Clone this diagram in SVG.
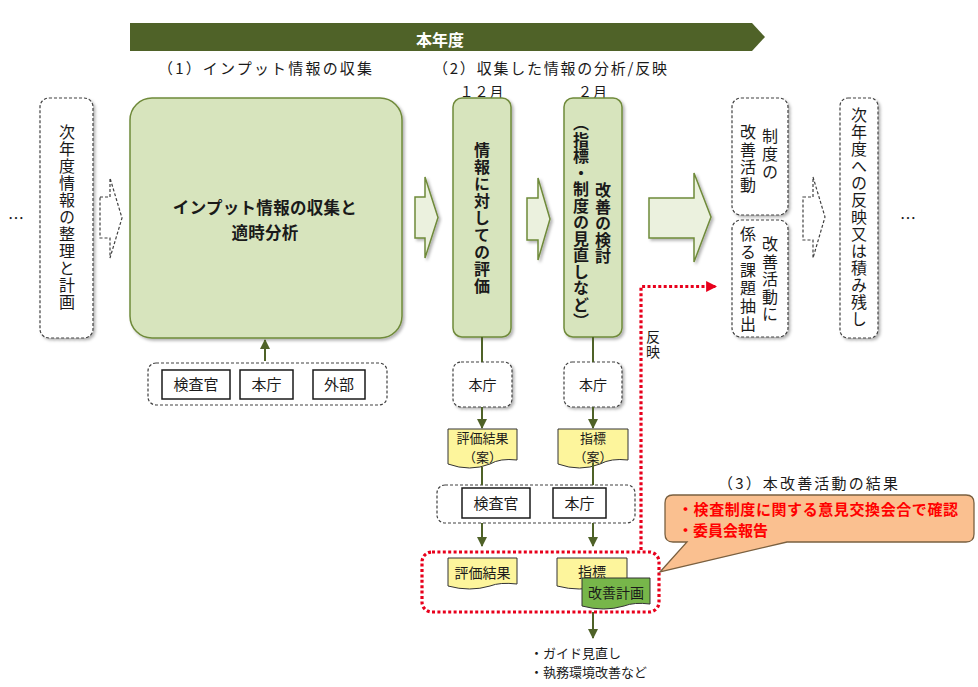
<svg xmlns="http://www.w3.org/2000/svg" width="978" height="687" viewBox="0 0 978 687">
<defs>
<filter id="sh" x="-10%" y="-10%" width="130%" height="130%"><feDropShadow dx="2" dy="2" stdDeviation="1.5" flood-color="#000" flood-opacity="0.3"/></filter>
<marker id="ah" viewBox="0 0 10 10" refX="9" refY="5" markerWidth="10" markerHeight="10" markerUnits="userSpaceOnUse" orient="auto"><path d="M0,0 L10,5 L0,10 Z" fill="#4f6228"/></marker>
<marker id="rh" viewBox="0 0 10 10" refX="9" refY="5" markerWidth="11" markerHeight="12" markerUnits="userSpaceOnUse" orient="auto"><path d="M0,0 L10,5 L0,10 Z" fill="#e8001c"/></marker>
<style>
text{font-family:"Noto Sans CJK JP","Noto Sans",sans-serif;fill:#1a1a1a}
.v{writing-mode:vertical-rl;text-anchor:start;font-size:16px;letter-spacing:1px}
.b{font-weight:bold}
.c{text-anchor:middle}
.gbox{fill:#d7e4bd;stroke:#6f8a3a;stroke-width:1.5;filter:url(#sh)}
.dash{fill:#fff;stroke:#404040;stroke-width:1.2;stroke-dasharray:3 2;filter:url(#sh)}
.dashg{fill:none;stroke:#404040;stroke-width:1.2;stroke-dasharray:3 2}
.harrow{fill:#ebf1de;stroke:#6f8a3a;stroke-width:1.5;filter:url(#sh)}
.darrow{fill:#fff;stroke:#404040;stroke-width:1.2;stroke-dasharray:3 2}
.sbox{fill:#fff;stroke:#1a1a1a;stroke-width:1.5}
.doc{fill:#fdf59c;stroke:#333;stroke-width:1}
.gdoc{fill:#77b64a;stroke:#333;stroke-width:1}
.conn{stroke:#4f6228;stroke-width:2;fill:none}
.red{stroke:#e8001c;stroke-width:3.2;stroke-dasharray:3 2.4;fill:none}
.t14{font-size:14px}
.t13{font-size:13px}
.t15{font-size:15px}
</style>
</defs>

<g id="banner">
<path d="M130 23 H752 L765 37 L752 51 H130 Z" fill="#4f6228"/>
<text x="440" y="46" class="c b" style="fill:#fff;font-size:16px">本年度</text>
</g>

<g id="headers">
<text x="158" y="74" class="t15" textLength="214" lengthAdjust="spacing">（1）インプット情報の収集</text>
<text x="433" y="74" class="t15" textLength="234" lengthAdjust="spacing">（2）収集した情報の分析/反映</text>
<text x="482" y="97" class="c t14" letter-spacing="1">１２月</text>
<text x="593" y="97" class="c t14" letter-spacing="1">２月</text>
</g>

<g id="dots-left"><text x="16" y="224" class="c" style="font-size:16px">…</text></g>
<g id="dots-right"><text x="908" y="224" class="c" style="font-size:16px">…</text></g>

<g id="prev-plan">
<rect x="40" y="98" width="53" height="240" rx="9" class="dash"/>
<text x="67" y="124" class="v">次年度情報の整理と計画</text>
</g>

<g id="input-collect">
<rect x="130" y="98" width="272" height="240" rx="22" class="gbox"/>
<text class="c b" style="font-size:16.5px" letter-spacing="0.3"><tspan x="265" y="214">インプット情報の収集と</tspan><tspan x="265" y="238.5">適時分析</tspan></text>
</g>

<g id="sources">
<rect x="148" y="363" width="239" height="42" rx="8" class="dashg"/>
<rect x="162" y="370" width="68" height="29" class="sbox"/>
<text x="196" y="390" class="c t15">検査官</text>
<rect x="240" y="370" width="53" height="29" class="sbox"/>
<text x="266.5" y="390" class="c t15">本庁</text>
<rect x="313" y="370" width="52" height="29" class="sbox"/>
<text x="339" y="390" class="c t15">外部</text>
</g>

<g id="eval">
<rect x="453" y="98" width="58" height="239" rx="9" class="gbox"/>
<text x="482" y="142" class="v b">情報に対しての評価</text>
</g>

<g id="improve">
<rect x="564" y="98" width="58" height="239" rx="9" class="gbox"/>
<text x="603" y="182" class="v b" style="letter-spacing:0.5px">改善の検討</text>
<text x="581" y="115" class="v b" style="letter-spacing:0.5px">（指標・制度の見直しなど）</text>
</g>

<g id="system-improve">
<rect x="732" y="98" width="56" height="117" rx="9" class="dash"/>
<text x="770" y="128" class="v" style="letter-spacing:2px">制度の</text>
<text x="748" y="124" class="v" style="letter-spacing:1.5px">改善活動</text>
</g>

<g id="issue-extract">
<rect x="732" y="220" width="56" height="117" rx="9" class="dash"/>
<text x="770" y="236" class="v" style="letter-spacing:1.5px">改善活動に</text>
<text x="748" y="226" class="v" style="letter-spacing:2px">係る課題抽出</text>
</g>

<g id="next-year">
<rect x="840" y="98" width="38" height="240" rx="8" class="dash"/>
<text x="859" y="107" class="v">次年度への反映又は積み残し</text>
</g>

<g id="honcho1">
<rect x="453" y="362" width="59" height="45" rx="8" class="dash"/>
<text x="482.5" y="390" class="c t14">本庁</text>
</g>
<g id="honcho2">
<rect x="564" y="362" width="58" height="45" rx="8" class="dash"/>
<text x="593" y="390" class="c t14">本庁</text>
</g>

<g id="draft-eval">
<path d="M448 429 H517 V460 Q500 458 490 464 Q470 472 448 464 Z" class="doc"/>
<text class="c t13"><tspan x="482.5" y="443">評価結果</tspan><tspan x="482.5" y="462">（案）</tspan></text>
</g>
<g id="draft-index">
<path d="M558 429 H628 V460 Q611 458 600 464 Q580 472 558 464 Z" class="doc"/>
<text class="c t13"><tspan x="593" y="443">指標</tspan><tspan x="593" y="462">（案）</tspan></text>
</g>

<g id="review">
<rect x="437" y="485" width="198" height="38" rx="8" class="dashg"/>
<rect x="462" y="488" width="68" height="30" class="sbox"/>
<text x="496" y="509" class="c t15">検査官</text>
<rect x="553" y="488" width="53" height="30" class="sbox"/>
<text x="579.5" y="509" class="c t15">本庁</text>
</g>

<g id="results">
<rect x="422" y="552" width="237" height="60" rx="10" class="red"/>
<path d="M448 558 H517 V584 Q500 582 490 586 Q470 592 448 586 Z" class="doc"/>
<text x="482.5" y="578" class="c t14">評価結果</text>
<path d="M557 558 H627 V584 Q610 582 600 586 Q580 592 557 586 Z" class="doc"/>
<text x="592" y="577" class="c t14">指標</text>
<path d="M582 578 H650 V604 Q634 602 624 606 Q604 612 582 606 Z" class="gdoc"/>
<text x="616" y="598" class="c t14">改善計画</text>
</g>

<g id="followup">
<text class="t13"><tspan x="530" y="658">・ガイド見直し</tspan><tspan x="530" y="677">・執務環境改善など</tspan></text>
</g>

<g id="callout">
<text x="718" y="489" class="t15" textLength="180" lengthAdjust="spacing">（3）本改善活動の結果</text>
<path d="M673 495 H966 Q974 495 974 503 V534 Q974 542 966 542 H787 L660 572 L687 542 H673 Q665 542 665 534 V503 Q665 495 673 495 Z" fill="#fac090" stroke="#7a6040" stroke-width="1.3"/>
<text class="b" style="fill:#ff0000;font-size:15px"><tspan x="678" y="515" textLength="280" lengthAdjust="spacing">・検査制度に関する意見交換会合で確認</tspan><tspan x="678" y="536">・委員会報告</tspan></text>
</g>

<g id="connectors">
<path d="M100 197 H110 V178 L122 218 L110 258 V238 H100 Z" class="darrow"/>
<path d="M415 197 H425 V177 L438 217.5 L425 258 V238 H415 Z" class="harrow"/>
<path d="M527 198 H538 V178 L550 219 L538 260 V240 H527 Z" class="harrow"/>
<path d="M649 198 H694 V173 L711 217 L694 262 V238 H649 Z" class="harrow"/>
<path d="M803 197 H813 V177 L825 217 L813 258 V240 H803 Z" class="darrow"/>
<line x1="265" y1="361" x2="265" y2="340" class="conn" marker-end="url(#ah)"/>
<line x1="482" y1="337" x2="482" y2="362" class="conn"/>
<line x1="593" y1="337" x2="593" y2="362" class="conn"/>
<line x1="482" y1="407" x2="482" y2="428" class="conn" marker-end="url(#ah)"/>
<line x1="593" y1="407" x2="593" y2="428" class="conn" marker-end="url(#ah)"/>
<line x1="482" y1="467" x2="482" y2="485" class="conn"/>
<line x1="593" y1="463" x2="593" y2="485" class="conn"/>
<line x1="482" y1="523" x2="482" y2="546" class="conn" marker-end="url(#ah)"/>
<line x1="593" y1="523" x2="593" y2="546" class="conn" marker-end="url(#ah)"/>
<line x1="593" y1="612" x2="593" y2="638" class="conn" marker-end="url(#ah)"/>
<path d="M641 550 V286.5 H716" class="red" marker-end="url(#rh)"/>
<text x="653" y="330" class="v" style="font-size:14px;letter-spacing:1px">反映</text>
</g>
</svg>
